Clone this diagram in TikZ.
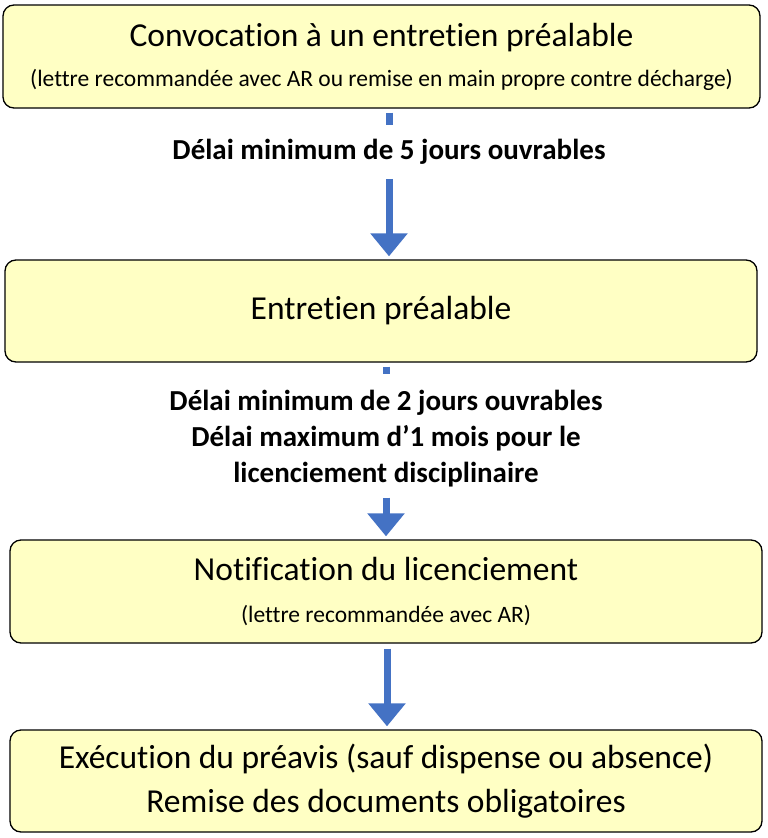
\documentclass[tikz,border=0pt]{standalone}
\usepackage{fontspec}
\setmainfont{Carlito}[Ligatures=NoCommon]
\usetikzlibrary{arrows.meta}
\definecolor{boxfill}{HTML}{FFFFC4}
\definecolor{arrblue}{HTML}{4472C4}
\newcommand{\subtxt}{\fontsize{23.5}{30}\selectfont}
\tikzset{
  box/.style={draw=black, line width=1.3pt, fill=boxfill, rounded corners=11pt, align=center, inner sep=0pt, font=\fontsize{33.5}{44}\selectfont},
  lbl/.style={font=\fontsize{29}{36}\selectfont\bfseries, align=center, inner sep=0pt},
  seg/.style={draw=arrblue, line width=7pt},
  arr/.style={draw=arrblue, line width=7pt, -{Triangle[width=36pt,length=23pt]}},
}
\begin{document}
\begin{tikzpicture}[x=1pt,y=-1pt]
\useasboundingbox (0,0) rectangle (768,838);
\node[box, minimum width=757pt, minimum height=103pt] (b1) at (381.5,56.5)
  {Convocation à un entretien préalable\\[-4pt]{\subtxt (lettre recommandée avec AR ou remise en main propre contre décharge)}};
\node[lbl] (l1) at (389,152) {Délai minimum de 5 jours ouvrables};
\node[box, minimum width=752pt, minimum height=102pt] (b2) at (381,311)
  {Entretien préalable};
\node[lbl] (l2) at (386,439) {Délai minimum de 2 jours ouvrables\\Délai maximum d’1 mois pour le\\licenciement disciplinaire};
\node[box, minimum width=752pt, minimum height=103pt] (b3) at (386,591.5)
  {Notification du licenciement\\[-2pt]{\subtxt (lettre recommandée avec AR)}};
\node[box, minimum width=752pt, minimum height=102pt] (b4) at (386,781)
  {Exécution du préavis (sauf dispense ou absence)\\Remise des documents obligatoires};
\draw[seg, shorten >=14pt, shorten <=4pt] (b1.south -| l1) -- (l1.north);
\draw[arr, shorten <=14pt, shorten >=3pt] (l1.south) -- (b2.north -| l1);
\draw[seg, shorten >=16pt, shorten <=4pt] (b2.south -| l2) -- (l2.north);
\draw[arr, shorten <=10pt, shorten >=3pt] (l2.south) -- (b3.north -| l2);
\coordinate (c3) at (387,0);
\draw[arr, shorten <=5pt, shorten >=3pt] (b3.south -| c3) -- (b4.north -| c3);
\end{tikzpicture}
\end{document}
